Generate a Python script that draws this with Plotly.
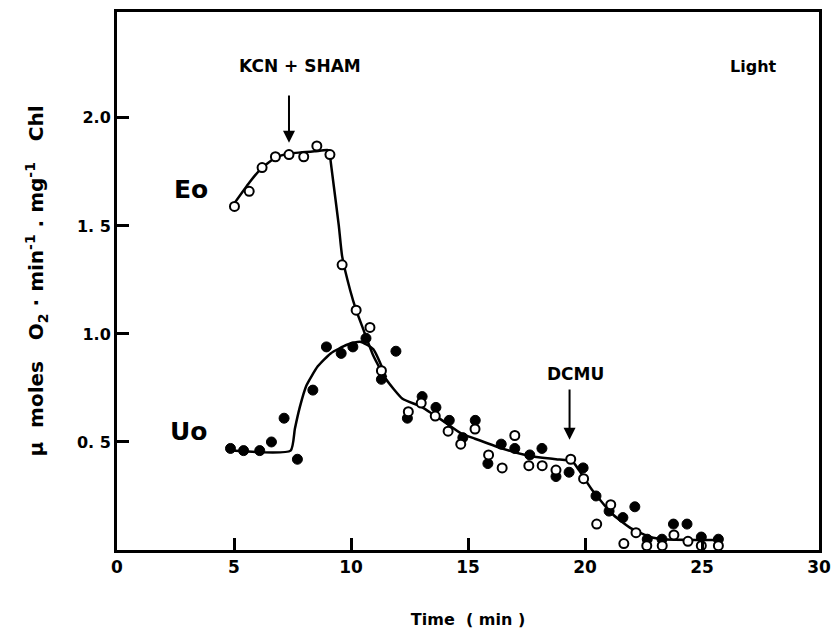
import plotly.graph_objects as go

# Eo (open circles)
eo_t = [5.02, 5.65, 6.2, 6.77, 7.35, 7.98, 8.54, 9.1, 9.62, 10.22, 10.81, 11.3, 12.45, 13.0, 13.6,
        14.15, 14.69, 15.3, 15.88, 16.46, 17.0, 17.6, 18.17, 18.76, 19.39, 19.94, 20.5, 21.1,
        21.66, 22.18, 22.64, 23.3, 23.8, 24.4, 24.97, 25.7]
eo_v = [1.59, 1.66, 1.77, 1.82, 1.83, 1.82, 1.87, 1.83, 1.32, 1.11, 1.03, 0.83, 0.64, 0.68, 0.62,
        0.55, 0.49, 0.56, 0.44, 0.38, 0.53, 0.39, 0.39, 0.37, 0.42, 0.33, 0.12, 0.21,
        0.03, 0.08, 0.02, 0.02, 0.07, 0.04, 0.02, 0.02]

# Uo (filled circles)
uo_t = [4.85, 5.41, 6.1, 6.6, 7.14, 7.71, 8.37, 8.95, 9.58, 10.08, 10.64, 11.3, 11.92, 12.41, 13.04,
        13.63, 14.2, 14.78, 15.31, 15.85, 16.42, 17.0, 17.64, 18.16, 18.76, 19.32, 19.92, 20.47,
        21.03, 21.62, 22.13, 22.66, 23.29, 23.78, 24.36, 24.97, 25.7]
uo_v = [0.47, 0.46, 0.46, 0.50, 0.61, 0.42, 0.74, 0.94, 0.91, 0.94, 0.98, 0.79, 0.92, 0.61, 0.71,
        0.66, 0.60, 0.52, 0.60, 0.40, 0.49, 0.47, 0.44, 0.47, 0.34, 0.36, 0.38, 0.25,
        0.18, 0.15, 0.20, 0.05, 0.05, 0.12, 0.12, 0.06, 0.05]

# hand-drawn fit curves
eo_fit_t = [5.05, 5.65, 6.2, 6.77, 7.35, 8.44, 9.07, 9.13, 9.27, 9.48, 9.62, 9.97, 10.22, 10.53,
            10.95, 11.5, 12.2, 12.97, 13.9, 14.7, 15.3, 16.46, 17.64, 18.76, 19.46, 19.74, 20.29,
            21.13, 21.97, 22.8, 23.36, 25.73]
eo_fit_v = [1.61, 1.70, 1.77, 1.815, 1.835, 1.845, 1.85, 1.80, 1.68, 1.50, 1.36, 1.20, 1.11, 1.02,
            0.90, 0.79, 0.70, 0.665, 0.60, 0.54, 0.515, 0.47, 0.435, 0.42, 0.41, 0.37, 0.28,
            0.17, 0.10, 0.06, 0.05, 0.046]
uo_fit_t = [4.88, 7.42, 7.6, 7.81, 8.09, 8.58, 9.13, 9.83, 10.39, 10.95, 11.5]
uo_fit_v = [0.46, 0.46, 0.56, 0.66, 0.76, 0.85, 0.91, 0.95, 0.964, 0.93, 0.80]

x_ticks = [0, 5, 10, 15, 20, 25, 30]
y_ticks = [0.5, 1.0, 1.5, 2.0]
y_tick_text = ["0. 5", "1.0", "1. 5", "2.0"]

FONT = "DejaVu Sans"

fig = go.Figure()
fig.add_trace(go.Scatter(x=eo_fit_t, y=eo_fit_v, mode="lines",
                         line=dict(color="black", width=2.5, shape="spline", smoothing=0.5),
                         hoverinfo="skip"))
fig.add_trace(go.Scatter(x=uo_fit_t, y=uo_fit_v, mode="lines",
                         line=dict(color="black", width=2.5, shape="spline", smoothing=0.5),
                         hoverinfo="skip"))
fig.add_trace(go.Scatter(x=uo_t, y=uo_v, mode="markers",
                         marker=dict(symbol="circle", size=10, color="black",
                                     line=dict(color="black", width=1))))
fig.add_trace(go.Scatter(x=eo_t, y=eo_v, mode="markers",
                         marker=dict(symbol="circle", size=9, color="white",
                                     line=dict(color="black", width=2))))

bold = dict(family=FONT, color="black", weight="bold")

fig.update_layout(
    width=838, height=635,
    margin=dict(l=117, r=7, t=12, b=85),
    paper_bgcolor="white", plot_bgcolor="white",
    showlegend=False,
    xaxis=dict(range=[0, 30], tickvals=x_ticks, ticktext=[str(v) for v in x_ticks],
               ticks="inside", ticklen=12, tickwidth=2.5, tickcolor="black",
               showline=True, linecolor="black", linewidth=3, mirror=True,
               showgrid=False, zeroline=False, ticklabeloverflow="allow",
               tickfont=dict(size=17, **bold),
               title=dict(text="Time  ( min )", font=dict(size=16, **bold), standoff=38)),
    yaxis=dict(range=[0, 2.49], tickvals=y_ticks, ticktext=y_tick_text,
               ticks="inside", ticklen=12, tickwidth=2.5, tickcolor="black",
               showline=True, linecolor="black", linewidth=3, mirror=True,
               showgrid=False, zeroline=False,
               tickfont=dict(size=16, **bold),
               title=dict(text="μ  moles   O<sub>2</sub> · min<sup>-1</sup> . mg<sup>-1</sup>   Chl",
                          font=dict(size=20, **bold), standoff=28)),
)

fig.add_annotation(x=7.35, y=1.885, ax=7.35, ay=2.11, xref="x", yref="y", axref="x", ayref="y",
                   showarrow=True, arrowhead=2, arrowsize=1.2, arrowwidth=2, arrowcolor="black",
                   text="")
fig.add_annotation(x=7.8, y=2.24, text="KCN + SHAM", showarrow=False,
                   font=dict(size=17, **bold))
fig.add_annotation(x=19.34, y=0.51, ax=19.34, ay=0.75, xref="x", yref="y", axref="x", ayref="y",
                   showarrow=True, arrowhead=2, arrowsize=1.2, arrowwidth=2, arrowcolor="black",
                   text="")
fig.add_annotation(x=19.6, y=0.815, text="DCMU", showarrow=False, font=dict(size=17, **bold))
fig.add_annotation(x=27.2, y=2.24, text="Light", showarrow=False, font=dict(size=16, **bold))
fig.add_annotation(x=3.15, y=1.67, text="Eo", showarrow=False, font=dict(size=25, **bold))
fig.add_annotation(x=3.05, y=0.55, text="Uo", showarrow=False, font=dict(size=25, **bold))

fig.write_html("out.html")
